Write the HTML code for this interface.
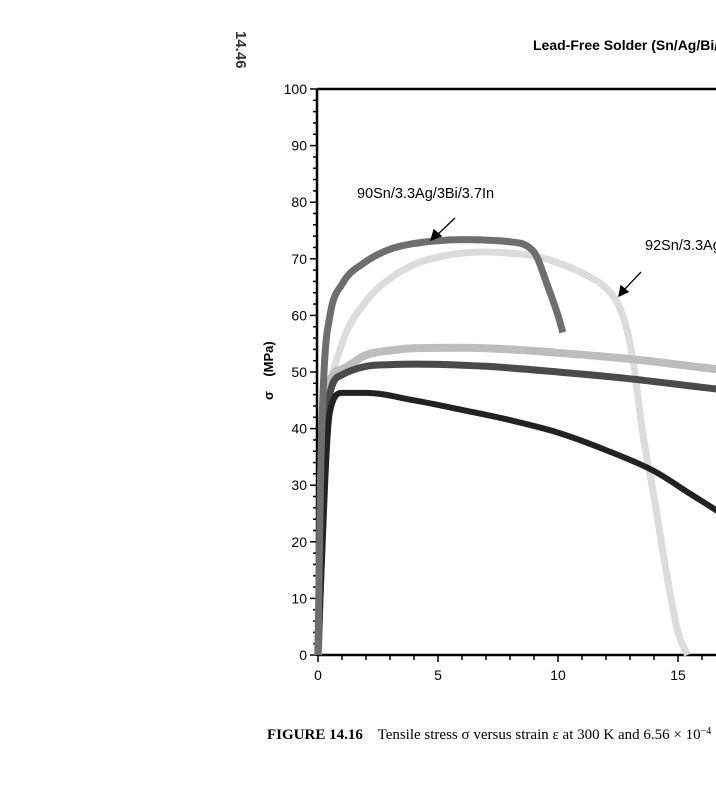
<!DOCTYPE html>
<html><head><meta charset="utf-8"><style>
body{margin:0;background:#fff;width:716px;height:800px;overflow:hidden;position:relative}
svg{position:absolute;left:0;top:0}
</style></head><body>
<svg width="716" height="800" font-family="Liberation Sans, sans-serif">
<text x="0" y="0" transform="translate(236,31) rotate(90)" font-size="15" font-weight="bold" fill="#333">14.46</text>
<text x="533" y="50" font-size="14" font-weight="bold">Lead-Free Solder (Sn/Ag/Bi/In)</text>
<text transform="translate(273,400) rotate(-90)" font-size="13" font-weight="bold" xml:space="preserve">σ    (MPa)</text>
<g id="axes"></g>
<g id="series"></g>
<text x="357" y="198" font-size="14.5">90Sn/3.3Ag/3Bi/3.7In</text>
<text x="645" y="250" font-size="14.5">92Sn/3.3Ag/4.7Bi</text>
<g stroke="#000" stroke-width="1.3" fill="#000">
<line x1="455" y1="218" x2="436" y2="236"/><polygon points="431,240 434,230 441,236"/></g>
<g stroke="#000" stroke-width="1.3" fill="#000">
<line x1="641" y1="272" x2="623" y2="291"/><polygon points="619,296 621,286 628,292"/></g>
<text x="267" y="739" font-family="Liberation Serif, serif" font-size="15" xml:space="preserve"><tspan font-weight="bold">FIGURE 14.16</tspan>    Tensile stress σ versus strain ε at 300 K and 6.56 × 10<tspan font-size="10" dy="-5">−4</tspan></text>
</svg>
<script>
const xTicks=[0,5,10,15];
const yTicks=[0,10,20,30,40,50,60,70,80,90,100];
const s90x=[0,0.1,0.25,0.5,1,2,3,4,5,6,7,8,8.7,9.1,9.5,10,10.2];
const s90y=[0,30,50,60,65.5,69.5,71.7,72.7,73.2,73.4,73.3,73,72.3,70.5,66,60,57];
const s92x=[0,0.2,0.45,1,2,3,4,5,6,7,8,9,10,11,12,12.5,12.9,13.2,13.5,14,14.5,15,15.4];
const s92y=[0,32,45,55,62.5,66.5,69,70.3,71,71.2,71,70.5,69.3,67.5,64.8,62,57,50,40,28,15,4,0];
const sLx=[0,0.3,1,2,3,4,6,8,10,13,16,17];
const sLy=[0,45,50.5,53,53.8,54.2,54.3,54,53.4,52.3,50.8,50.3];
const sMx=[0,0.4,1,2,3,4,7,10,13,16,17];
const sMy=[0,44,49.5,51,51.3,51.4,51,50,48.8,47.3,46.8];
const sBx=[0,0.5,1,2,4,6,8,10,12,14,15.5,17];
const sBy=[0,43,46.3,46.3,45,43.3,41.5,39.3,36.2,32.5,28.5,24.5];
const X=v=>318+v*24, Y=v=>655-v*5.66;
const NS='http://www.w3.org/2000/svg';
const ax=document.getElementById('axes'), se=document.getElementById('series');
function mk(tag,attrs,parent){const e=document.createElementNS(NS,tag);for(const k in attrs)e.setAttribute(k,attrs[k]);parent.appendChild(e);return e;}
let e=mk('line',{x1:317,y1:655,x2:716,y2:655,stroke:'#000','stroke-width':2.5},ax);


e=mk('line',{x1:317,y1:89,x2:317,y2:656,stroke:'#000','stroke-width':2.5},ax);


e=mk('line',{x1:317,y1:89,x2:716,y2:89,stroke:'#000','stroke-width':2.5},ax);


for(let i=0;i<=17;i++){const t=mk('line',{x1:X(i),y1:655,x2:X(i),y2:i%5==0?662:660,stroke:'#000','stroke-width':1.5},ax);

}
xTicks.forEach(v=>{const t=mk('text',{x:X(v),y:680,'font-size':14,'text-anchor':'middle'},ax);t.textContent=v;

});
for(let i=0;i<=100;i+=2){const t=mk('line',{x1:i%10==0?310:313,y1:Y(i),x2:317,y2:Y(i),stroke:'#000','stroke-width':1.5},ax);

}
yTicks.forEach(v=>{const t=mk('text',{x:307,y:Y(v)+5,'font-size':14,'text-anchor':'end'},ax);t.textContent=v;

});
// monotone cubic (Fritsch-Carlson) interpolation in pixel space
function series(xs,ys,col,w,name){
const px=xs.map(X), py=ys.map(Y), n=px.length;
const d=[],m=new Array(n);
for(let i=0;i<n-1;i++)d.push((py[i+1]-py[i])/(px[i+1]-px[i]));
m[0]=d[0];m[n-1]=d[n-2];
for(let i=1;i<n-1;i++){m[i]=(d[i-1]*d[i]<=0)?0:(d[i-1]+d[i])/2;}
for(let i=0;i<n-1;i++){if(d[i]===0){m[i]=0;m[i+1]=0;continue;}
const a=m[i]/d[i],b=m[i+1]/d[i],s=a*a+b*b;if(s>9){const t=3/Math.sqrt(s);m[i]=t*a*d[i];m[i+1]=t*b*d[i];}}
let p='M'+px[0].toFixed(1)+','+py[0].toFixed(1);
for(let i=0;i<n-1;i++){const h=(px[i+1]-px[i])/3;
p+=' C'+(px[i]+h).toFixed(1)+','+(py[i]+m[i]*h).toFixed(1)+' '+(px[i+1]-h).toFixed(1)+','+(py[i+1]-m[i+1]*h).toFixed(1)+' '+px[i+1].toFixed(1)+','+py[i+1].toFixed(1);}
const l=mk('path',{d:p,fill:'none',stroke:col,'stroke-width':w,'stroke-linejoin':'round','stroke-linecap':'butt'},se);

}
series(s92x,s92y,'#dcdcdc',7,'series-92sn');
series(sLx,sLy,'#bdbdbd',8,'series-light-gray');
series(sMx,sMy,'#4a4a4a',7,'series-dark-gray');
series(sBx,sBy,'#222',6,'series-black');
series(s90x,s90y,'#6e6e6e',7,'series-90sn');
</script>
</body></html>
